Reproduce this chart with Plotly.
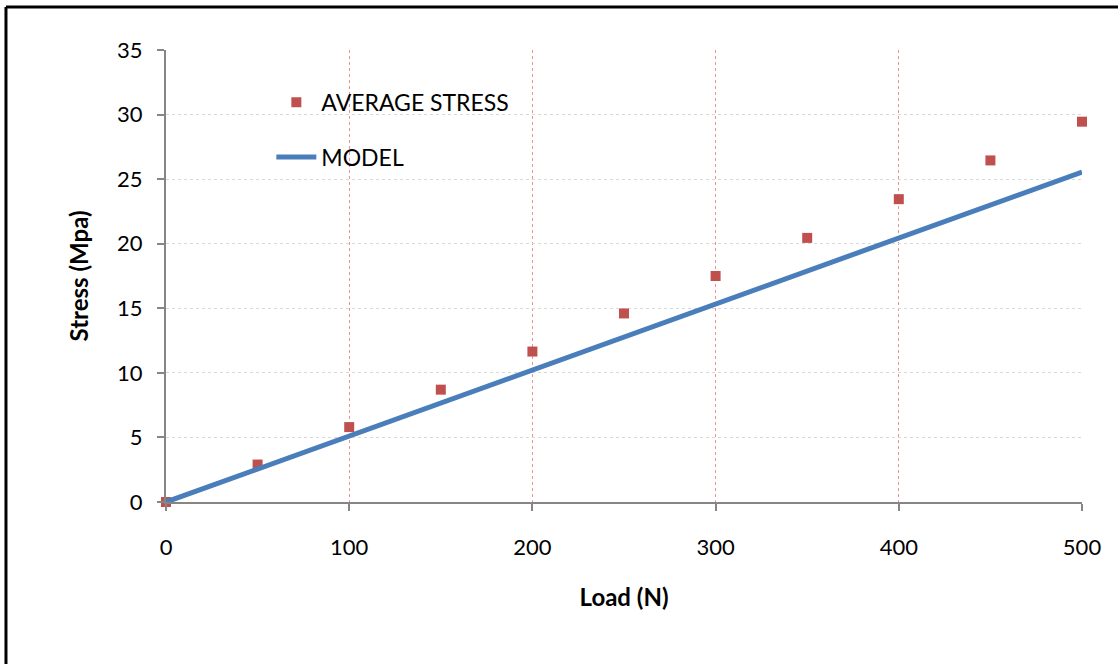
import plotly.graph_objects as go

load = [0, 50, 100, 150, 200, 250, 300, 350, 400, 450, 500]
avg_stress = [0.0, 2.9, 5.8, 8.7, 11.65, 14.6, 17.5, 20.45, 23.45, 26.45, 29.45]
model_stress = [0.0, 2.56, 5.11, 7.67, 10.22, 12.78, 15.33, 17.89, 20.44, 23.0, 25.55]

x_ticks = [0, 100, 200, 300, 400, 500]
y_ticks = [0, 5, 10, 15, 20, 25, 30, 35]

FONT = "Lato, 'Open Sans', sans-serif"

fig = go.Figure()
fig.add_trace(go.Scatter(
    x=load, y=avg_stress, mode="markers", name="AVERAGE STRESS",
    marker=dict(symbol="square", size=10, color="#C0504D"),
    legendgroup="a", cliponaxis=False,
))
fig.add_trace(go.Scatter(
    x=load, y=model_stress, mode="lines", name="MODEL",
    line=dict(color="#4A7EBB", width=5),
    legendgroup="b", cliponaxis=False,
))

# outer frame (left and top black lines)
fig.add_shape(type="line", xref="paper", yref="paper",
              x0=-0.1747, x1=-0.1747, y0=1.0951, y1=-0.4,
              line=dict(color="black", width=3))
fig.add_shape(type="line", xref="paper", yref="paper",
              x0=-0.1747, x1=1.05, y0=1.0951, y1=1.0951,
              line=dict(color="black", width=3))

fig.update_layout(
    width=1118, height=664,
    margin=dict(l=166, r=36, t=50, b=162),
    paper_bgcolor="white", plot_bgcolor="white",
    font=dict(family=FONT, size=22, color="black"),
    showlegend=True,
    legend=dict(
        x=0.115, y=0.932, xanchor="left", yanchor="top",
        bgcolor="rgba(0,0,0,0)", font=dict(size=23, family=FONT),
        tracegroupgap=22, traceorder="grouped", itemwidth=40,
    ),
    xaxis=dict(
        range=[0, 500], tickvals=x_ticks, ticks="outside", ticklen=7,
        tickwidth=2, tickcolor="#868686", showline=True, linecolor="#868686",
        linewidth=2, showgrid=True, gridcolor="rgba(230,120,120,0.8)",
        griddash="dot", gridwidth=1, zeroline=False,
        tickfont=dict(size=22),
        title=dict(text="<b>Load (N)</b>", font=dict(size=24), standoff=30),
        ticklabelstandoff=18,
    ),
    yaxis=dict(
        range=[0, 35], tickvals=y_ticks, ticks="outside", ticklen=7,
        tickwidth=2, tickcolor="#868686", showline=True, linecolor="#868686",
        linewidth=2, showgrid=True, gridcolor="#D9D9D9", griddash="dot",
        gridwidth=1, zeroline=False,
        tickfont=dict(size=22),
        title=dict(text="<b>Stress (Mpa)</b>", font=dict(size=24), standoff=22),
        ticklabelstandoff=10,
    ),
)

fig.write_html("out.html", config={"displayModeBar": False},
               post_script="document.body.style.margin='0';")
